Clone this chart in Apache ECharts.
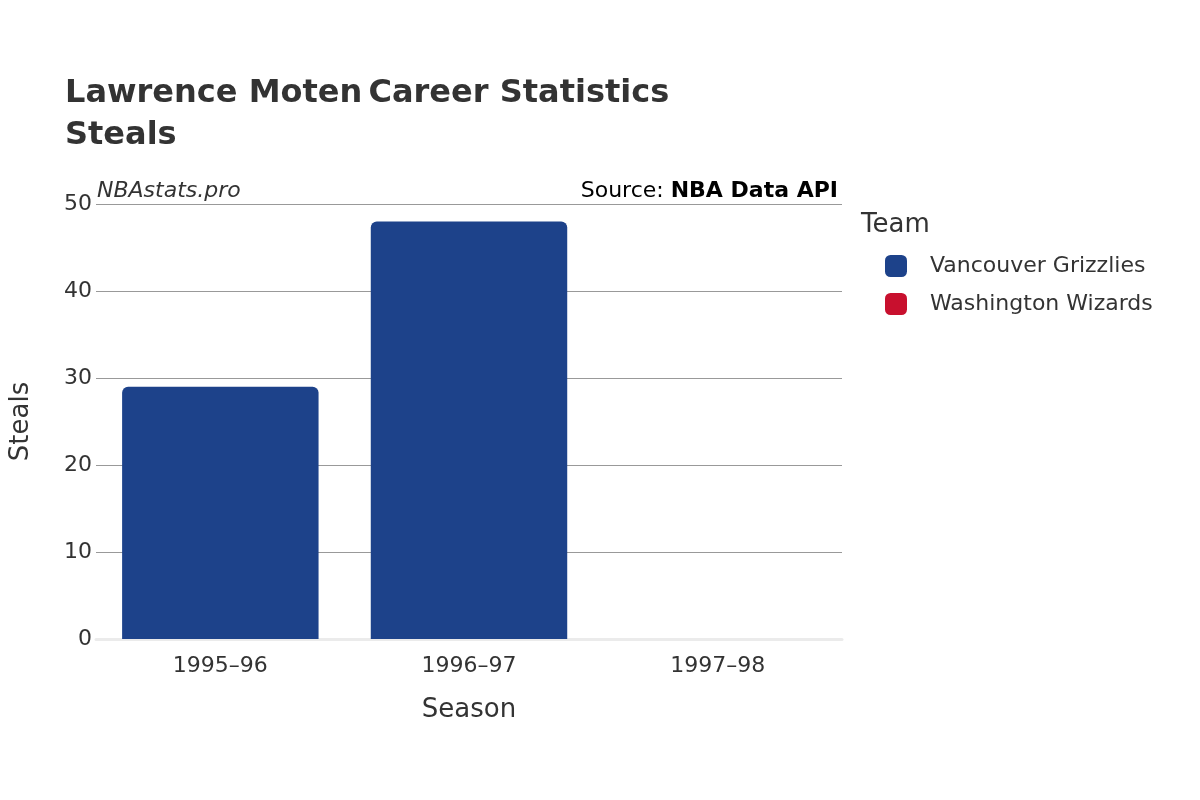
<!DOCTYPE html>
<html><head><meta charset="utf-8">
<script src="https://cdn.jsdelivr.net/npm/echarts@6/dist/echarts.min.js"></script>
<style>html,body{margin:0;padding:0;background:#fff}#c{width:1200px;height:800px}</style>
</head><body><div id="c"></div>
<script>
const seasons = ['1995–96', '1996–97', '1997–98'];
const grizzlies = [29, 48, null];
const wizards = [null, null, 0];
const yTicks = [0, 10, 20, 30, 40, 50];

const chart = echarts.init(document.getElementById('c'));
const font = 'DejaVu Sans';
chart.setOption({
  textStyle: {fontFamily: font},
  title: {
    left: 60, top: 68,
    text: '{b|Lawrence Moten} {n|Career Statistics}\n{n|Steals}',
    textStyle: {rich: {
      b: {fontFamily: font, fontSize: 32, fontWeight: 'bold', color: '#333', lineHeight: 42},
      n: {fontFamily: font, fontSize: 32, color: '#333', lineHeight: 42}
    }}
  },
  graphic: [
    {type: 'text', left: 97, top: 180, style: {text: 'NBAstats.pro', font: 'italic 22px DejaVu Sans', fill: '#333'}},
    {type: 'text', right: 362, top: 180, style: {text: '{a|Source: }{b|NBA Data API}', rich: {
      a: {font: '22px DejaVu Sans', fill: '#333'}, b: {font: 'bold 22px DejaVu Sans', fill: '#333'}}}}
  ],
  legend: {
    orient: 'vertical', left: 860, top: 210,
    data: ['Vancouver Grizzlies', 'Washington Wizards'],
    title: undefined,
    icon: 'roundRect', itemWidth: 22, itemHeight: 22, itemGap: 16,
    textStyle: {fontSize: 22, color: '#333', padding: [0, 0, 0, 18]},
    formatter: n => n,
    padding: [45, 5, 5, 25]
  },
  grid: {left: 93, right: 358, top: 204, bottom: 161},
  xAxis: {
    type: 'category', data: seasons,
    name: 'Season', nameLocation: 'middle', nameGap: 58,
    nameTextStyle: {fontSize: 26, color: '#333'},
    axisLine: {lineStyle: {color: '#ebebeb', width: 3}},
    axisTick: {show: false},
    axisLabel: {fontSize: 22, color: '#333', margin: 16}
  },
  yAxis: {
    type: 'value', min: 0, max: 50, interval: 10,
    name: 'Steals', nameLocation: 'middle', nameGap: 62,
    nameTextStyle: {fontSize: 26, color: '#333'},
    axisLabel: {fontSize: 22, color: '#333', margin: 4},
    splitLine: {lineStyle: {color: '#999', width: 1}}
  },
  series: [
    {name: 'Vancouver Grizzlies', type: 'bar', stack: 's', data: grizzlies, barWidth: '79%',
     itemStyle: {color: '#1d428a', borderRadius: [6, 6, 0, 0]}},
    {name: 'Washington Wizards', type: 'bar', stack: 's', data: wizards, barWidth: '79%',
     itemStyle: {color: '#c8102e', borderRadius: [6, 6, 0, 0]}}
  ]
});
chart.setOption({graphic: [
  {type: 'text', left: 97, top: 180, style: {text: 'NBAstats.pro', font: 'italic 22px DejaVu Sans', fill: '#333'}},
  {type: 'text', right: 362, top: 180, style: {text: '{a|Source: }{b|NBA Data API}', rich: {
    a: {fontFamily: font, fontSize: 22, color: '#333'}, b: {fontFamily: font, fontSize: 22, fontWeight: 'bold', color: '#333'}}}},
  {type: 'text', left: 861, top: 212, style: {text: 'Team', font: '26px DejaVu Sans', fill: '#333'}}
]});
</script></body></html>
